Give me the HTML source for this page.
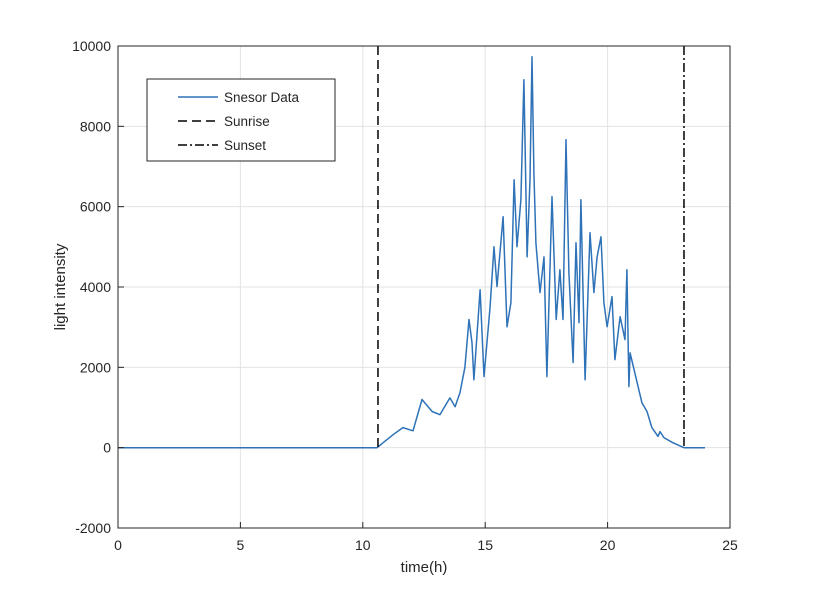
<!DOCTYPE html>
<html><head><meta charset="utf-8">
<style>
body{margin:0;background:#fff;}
svg text{font-family:"Liberation Sans",sans-serif;fill:#262626;}
</style></head>
<body>
<svg id="chart" width="822" height="602" viewBox="0 0 822 602" xmlns="http://www.w3.org/2000/svg">
<rect width="822" height="602" fill="#fff"/>
<g id="grid"></g>
<g id="marks"></g>
<rect x="118" y="46" width="612" height="482" fill="none" stroke="#262626" stroke-width="1"/>
<g id="ticks"></g>
<text x="424" y="572" font-size="15" text-anchor="middle">time(h)</text>
<text x="65" y="287" font-size="15" text-anchor="middle" transform="rotate(-90 65 287)">light intensity</text>
<g>
<rect x="147" y="79" width="188" height="82" fill="#fff" stroke="#262626" stroke-width="1"/>
<line x1="178" y1="97" x2="218" y2="97" stroke="#2e72b8" stroke-width="1.5"/>
<text x="224" y="102" font-size="13.5">Snesor Data</text>
<line x1="178" y1="121" x2="218" y2="121" stroke="#000" stroke-width="1.5" stroke-dasharray="9,5"/>
<text x="224" y="126" font-size="13.5">Sunrise</text>
<line x1="178" y1="145" x2="218" y2="145" stroke="#000" stroke-width="1.5" stroke-dasharray="9,3,2,3"/>
<text x="224" y="150" font-size="13.5">Sunset</text>
</g>
</svg>
<script>
const times = [0,10.58,11.23,11.64,12.05,12.42,12.83,13.15,13.56,13.77,13.97,14.17,14.34,14.46,14.54,14.79,14.95,15.2,15.36,15.48,15.73,15.89,16.05,16.18,16.3,16.46,16.58,16.71,16.83,16.91,16.99,17.07,17.24,17.4,17.52,17.73,17.9,18.05,18.18,18.3,18.42,18.59,18.71,18.83,18.91,19.08,19.28,19.44,19.57,19.73,19.85,19.98,20.18,20.3,20.51,20.71,20.79,20.87,20.92,21.16,21.4,21.61,21.81,22.06,22.14,22.3,22.67,23.12,23.98];
const intensity = [0,0,320,500,420,1200,900,820,1240,1020,1370,2000,3190,2610,1690,3930,1770,3510,5000,4010,5750,3010,3610,6670,5000,6170,9160,4750,6670,9730,6850,5100,3860,4750,1770,6250,3190,4430,3190,7670,4360,2120,5100,3110,6170,1690,5350,3860,4750,5250,3610,3010,3760,2190,3260,2690,4430,1520,2360,1740,1120,900,500,280,400,250,120,0,0];
const xTicks = [0,5,10,15,20,25];
const yTicks = [-2000,0,2000,4000,6000,8000,10000];
const sunrise = 10.62;
const sunset = 23.12;

const X = t => 118 + (t - 0) / 25 * 612;
const Y = v => 528 - (v + 2000) / 12000 * 482;
const NS = 'http://www.w3.org/2000/svg';
function mk(tag, parent, attrs){const e=document.createElementNS(NS,tag);for(const k in attrs)e.setAttribute(k,attrs[k]);parent.appendChild(e);return e;}
const grid=document.getElementById('grid'), ticks=document.getElementById('ticks'), marks=document.getElementById('marks');
xTicks.forEach(t=>{
  const g=mk('line',grid,{x1:X(t),x2:X(t),y1:46,y2:528,stroke:'#e3e3e3'});
  
  
  const tk=mk('line',ticks,{x1:X(t),x2:X(t),y1:522,y2:528,stroke:'#262626'});
  
  
  const tx=mk('text',ticks,{x:X(t),y:550,'font-size':14,'text-anchor':'middle'});
  tx.textContent=t;
  
  
});
yTicks.forEach(v=>{
  const g=mk('line',grid,{x1:118,x2:730,y1:Y(v),y2:Y(v),stroke:'#e3e3e3'});
  
  
  const tk=mk('line',ticks,{x1:118,x2:124,y1:Y(v),y2:Y(v),stroke:'#262626'});
  
  
  const tx=mk('text',ticks,{x:111,y:Y(v)+5,'font-size':14,'text-anchor':'end'});
  tx.textContent=v;
  
  
});
const pts=times.map((t,i)=>X(t).toFixed(1)+','+Y(intensity[i]).toFixed(1)).join(' ');
const pl=mk('polyline',marks,{points:pts,fill:'none',stroke:'#2e72b8','stroke-width':1.5,'stroke-linejoin':'round'});


const sr=mk('line',marks,{x1:X(sunrise),x2:X(sunrise),y1:46,y2:Y(0),stroke:'#000','stroke-width':1.5,'stroke-dasharray':'9,5'});


const ss=mk('line',marks,{x1:X(sunset),x2:X(sunset),y1:46,y2:Y(0),stroke:'#000','stroke-width':1.5,'stroke-dasharray':'9,3,2,3'});


</script>
</body></html>
